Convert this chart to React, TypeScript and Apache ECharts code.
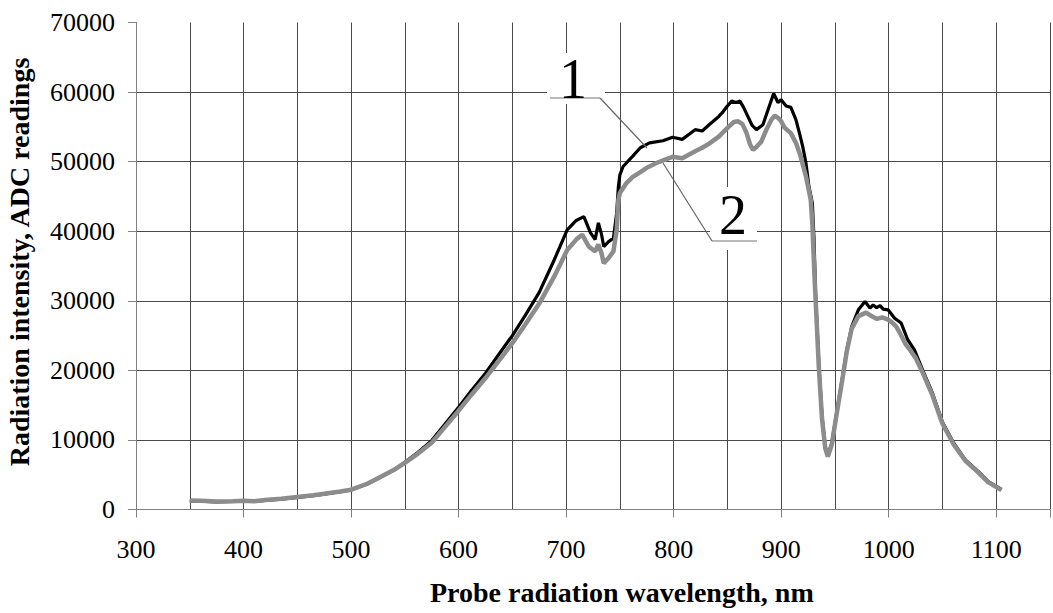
import React, { useEffect, useRef } from "react";
import * as echarts from "echarts";

// Curve 1 (black)
const wavelength1: number[] = [
  350, 360, 375, 390, 400, 410, 420, 435, 450, 465, 475, 490, 500, 515, 525, 540, 550, 562, 575, 587,
  600, 612, 625, 637, 650, 662, 675, 689, 701, 709, 716.5, 722.6, 727, 730, 733, 735, 739.5, 744, 747, 748.6,
  750, 753, 762, 769, 777.6, 790, 799, 808, 815, 820, 826.6, 833, 842, 845, 850, 854, 858, 861.7, 865, 869,
  873, 877, 883, 889, 893, 897, 900, 904.6, 909, 913.7, 916.8, 920, 923, 925.8, 929, 930.5, 932, 935, 938, 941,
  943.4, 947, 952, 956.6, 961, 965.6, 971.8, 978, 982.6, 985.5, 988.7, 992, 994.8, 999.4, 1005.5, 1011.6, 1017.7, 1023.9, 1031.5, 1040.7,
  1049.8, 1060.5, 1071.3, 1083.5, 1092.7, 1104.9,
];
const curve1: number[] = [
  1250, 1200, 1100, 1150, 1200, 1150, 1300, 1500, 1750, 2000, 2200, 2550, 2800, 3650, 4450, 5700, 6800, 8200, 9900, 12200,
  14700, 17100, 19600, 22200, 25000, 27900, 31200, 35900, 40200, 41500, 42100, 39800, 38800, 41200, 39500, 37800, 38500, 39000, 42600, 46400,
  48100, 49300, 50800, 52000, 52700, 53000, 53500, 53200, 54000, 54600, 54400, 55300, 56500, 57000, 58000, 58700, 58500, 58700, 57800, 56500,
  55200, 54600, 55300, 58000, 59800, 58500, 58900, 58000, 57800, 56050, 54200, 52200, 49850, 46450, 44000, 39000, 31000, 21000, 13350, 9040,
  7840, 9500, 14300, 18600, 22950, 26300, 28700, 29900, 28950, 29400, 29000, 29300, 28800, 28700, 27500, 26800, 24400, 22950, 20070, 16720,
  12630, 9520, 7120, 5440, 4000, 2900,
];

// Curve 2 (grey)
const wavelength2: number[] = [
  350, 360, 375, 390, 400, 410, 420, 435, 450, 465, 475, 490, 500, 515, 525, 540, 550, 562, 575, 587,
  600, 612, 625, 637, 650, 662, 675, 689, 701, 710, 715, 721, 727, 730, 733, 735, 739.5, 744, 747, 748.6,
  750, 756, 762, 768, 776, 784, 792, 799, 808, 814, 820, 826.6, 833, 842, 851, 856, 860, 864, 867.6, 871,
  873.8, 877, 881.6, 886, 890.8, 894, 897, 900, 903, 906, 909, 913.7, 918, 923, 927.5, 929, 931, 933, 935, 938,
  941, 943.4, 947, 952, 956.6, 961, 965.6, 971.8, 979, 984, 988.7, 994, 999.4, 1003, 1007, 1011, 1016, 1020, 1025, 1031.5,
  1040.7, 1049.8, 1060.5, 1071.3, 1083.5, 1092.7, 1104.9,
];
const curve2: number[] = [
  1300, 1250, 1150, 1200, 1250, 1200, 1350, 1550, 1800, 2050, 2250, 2600, 2850, 3700, 4500, 5700, 6700, 8000, 9600, 11800,
  14200, 16500, 18900, 21300, 23900, 26600, 29600, 33500, 37300, 38900, 39500, 37800, 37100, 38100, 36800, 35400, 36150, 37100, 40200, 44500,
  45500, 46900, 47800, 48400, 49200, 49800, 50300, 50700, 50500, 51000, 51500, 52000, 52600, 53600, 55000, 55700, 55800, 55400, 54200, 52500,
  51700, 52100, 52900, 54500, 56000, 56600, 56300, 55800, 54900, 54500, 54100, 52700, 50800, 47900, 44500, 41000, 33500, 27000, 20500, 13000,
  8800, 7600, 9300, 14100, 18400, 22700, 26000, 27800, 28300, 27800, 27400, 27600, 27300, 26900, 26300, 25200, 23700, 22900, 21800, 19700,
  16400, 12400, 9300, 7000, 5300, 3900, 2800,
];

const xTitle = "Probe radiation wavelength, nm";
const yTitle = "Radiation intensity, ADC readings";
const seriesLabels = ["1", "2"];

const FONT = "'Liberation Serif', 'DejaVu Serif', serif";
const GRID = "#4a4a4a";
const AXIS = "#808080";

export default function App() {
  const ref = useRef<HTMLDivElement>(null);

  useEffect(() => {
    if (!ref.current) return;
    const chart = echarts.init(ref.current, undefined, { renderer: "svg" });
    const d1 = wavelength1.map((x, i) => [x, curve1[i]]);
    const d2 = wavelength2.map((x, i) => [x, curve2[i]]);

    chart.setOption({
      animation: false,
      backgroundColor: "#ffffff",
      grid: { left: 136, top: 22.5, right: -9.5, bottom: 103.5, containLabel: false },
      xAxis: {
        type: "value",
        min: 300,
        max: 1150,
        interval: 100,
        axisLine: { show: true, lineStyle: { color: AXIS, width: 1 } },
        axisTick: { show: true, length: 8, lineStyle: { color: AXIS } },
        axisLabel: {
          margin: 27,
          fontFamily: FONT,
          fontSize: 26,
          color: "#000",
          formatter: (v: number) => (v > 1100 ? "" : String(v)),
        },
        splitLine: { show: true, lineStyle: { color: GRID, width: 1 } },
        minorTick: { show: false, splitNumber: 2 },
        minorSplitLine: { show: true, lineStyle: { color: GRID, width: 1 } },
      },
      yAxis: {
        type: "value",
        min: 0,
        max: 70000,
        interval: 10000,
        axisLine: { show: true, lineStyle: { color: AXIS, width: 1 } },
        axisTick: { show: true, length: 8, lineStyle: { color: AXIS } },
        axisLabel: {
          margin: 21,
          fontFamily: FONT,
          fontSize: 26,
          color: "#000",
          formatter: (v: number) => String(v),
        },
        splitLine: { show: true, showMaxLine: false, lineStyle: { color: GRID, width: 1 } },
      },
      graphic: [
        {
          type: "text",
          left: 430,
          top: 578,
          style: { text: xTitle, font: `bold 28px ${FONT}`, fill: "#000" },
        },
        {
          type: "text",
          x: 5,
          y: 262,
          rotation: Math.PI / 2,
          style: {
            text: yTitle,
            font: `bold 28px ${FONT}`,
            fill: "#000",
            textAlign: "center",
            textVerticalAlign: "top",
          },
        },
        // label 1
        { type: "rect", shape: { x: 547, y: 53, width: 58, height: 51 }, style: { fill: "#fff" }, z: 50 },
        { type: "line", shape: { x1: 550, y1: 98, x2: 600, y2: 98 }, style: { stroke: "#777", lineWidth: 1.2 }, z: 51 },
        { type: "line", shape: { x1: 600, y1: 98, x2: 647, y2: 148 }, style: { stroke: "#666", lineWidth: 1.2 }, z: 51 },
        {
          type: "text",
          x: 573,
          y: 79,
          z: 52,
          style: { text: seriesLabels[0], font: `56px ${FONT}`, fill: "#000", textAlign: "center", textVerticalAlign: "middle" },
        },
        // label 2
        { type: "rect", shape: { x: 710, y: 187, width: 47, height: 63 }, style: { fill: "#fff" }, z: 50 },
        { type: "line", shape: { x1: 712, y1: 241, x2: 757, y2: 241 }, style: { stroke: "#777", lineWidth: 1.2 }, z: 51 },
        { type: "line", shape: { x1: 712, y1: 241, x2: 663, y2: 163 }, style: { stroke: "#666", lineWidth: 1.2 }, z: 51 },
        {
          type: "text",
          x: 733,
          y: 215,
          z: 52,
          style: { text: seriesLabels[1], font: `56px ${FONT}`, fill: "#000", textAlign: "center", textVerticalAlign: "middle" },
        },
      ],
      series: [
        {
          type: "line",
          name: seriesLabels[0],
          data: d1,
          showSymbol: false,
          symbol: "none",
          lineStyle: { color: "#000", width: 3.2 },
          z: 3,
        },
        {
          type: "line",
          name: seriesLabels[1],
          data: d2,
          showSymbol: false,
          symbol: "none",
          lineStyle: { color: "#8c8c8c", width: 4.5 },
          z: 4,
        },
      ],
    });
    return () => chart.dispose();
  }, []);

  return (
    <div
      ref={ref}
      style={{ position: "fixed", left: 0, top: 0, width: 1053, height: 613, background: "#fff" }}
    />
  );
}
